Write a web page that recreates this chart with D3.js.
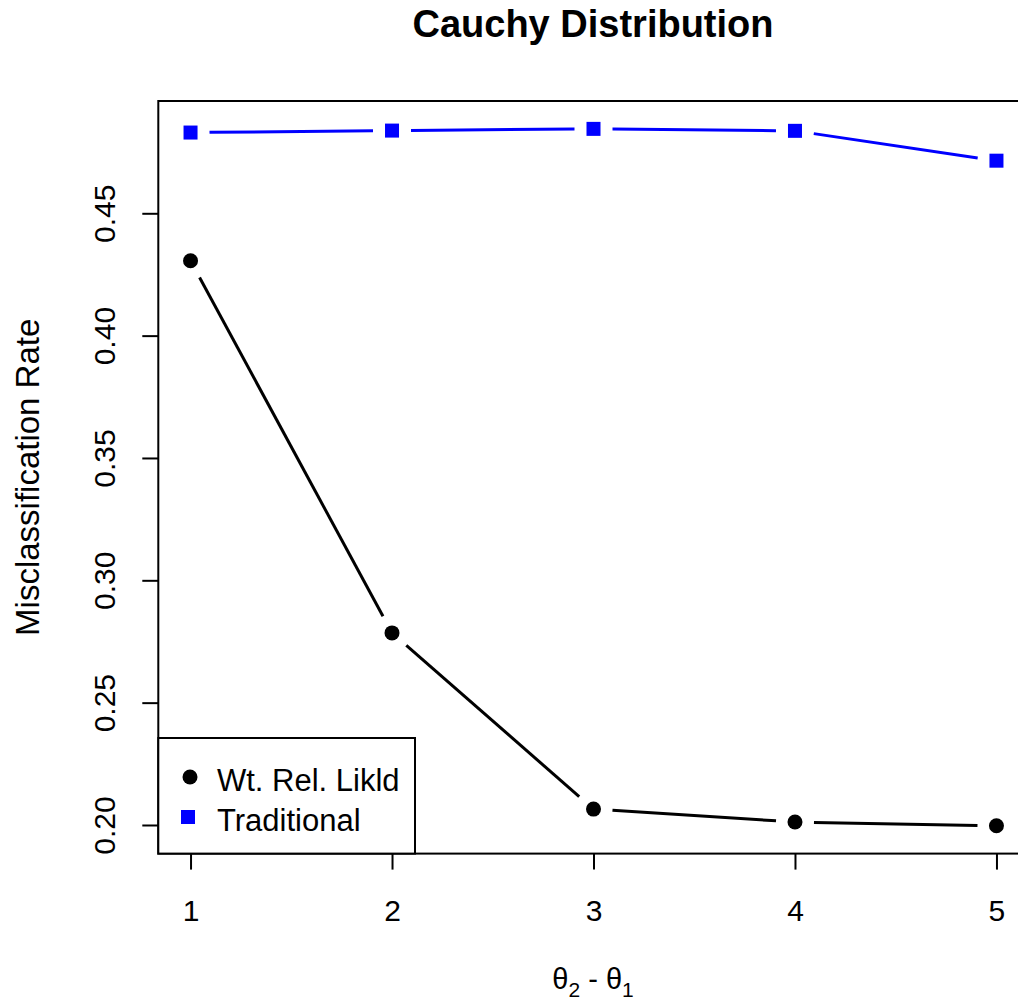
<!DOCTYPE html>
<html>
<head>
<meta charset="utf-8">
<script src="https://cdn.jsdelivr.net/npm/d3@7"></script>
<style>
  html, body { margin: 0; padding: 0; background: #fff; }
  svg { display: block; }
  text { font-family: "Liberation Sans", Arial, sans-serif; }
</style>
</head>
<body>
<div id="chart"></div>
<script>
const xValues = [1, 2, 3, 4, 5];
const wtRelLikld = [0.4306, 0.2785, 0.2065, 0.2012, 0.1997];
const traditional = [0.4830, 0.4838, 0.4845, 0.4837, 0.4715];
const yTicks = [0.20, 0.25, 0.30, 0.35, 0.40, 0.45];
const xTicks = [1, 2, 3, 4, 5];
const seriesNames = ["Wt. Rel. Likld", "Traditional"];
const seriesColors = ["#000000", "#0000ff"];
const chartTitle = "Cauchy Distribution";
const yLabel = "Misclassification Rate";

const W = 1018, H = 1005;
const plot = { left: 158.3, right: 1028.7, top: 101, bottom: 853.6 };

const svg = d3.select("#chart").append("svg").attr("width", W).attr("height", H);

// R-style 4% padding on the data range
const xPad = 0.04 * (d3.max(xValues) - d3.min(xValues));
const x = d3.scaleLinear()
  .domain([d3.min(xValues) - xPad, d3.max(xValues) + xPad])
  .range([plot.left, plot.right]);
const allY = wtRelLikld.concat(traditional);
const yMin = d3.min(allY), yMax = d3.max(allY);
const yPad = 0.04 * (yMax - yMin);
const y = d3.scaleLinear()
  .domain([yMin - yPad, yMax + yPad])
  .range([plot.bottom, plot.top]);

// Title
svg.append("text")
  .attr("x", 593)
  .attr("y", 37)
  .attr("text-anchor", "middle")
  .attr("font-weight", "bold")
  .attr("font-size", 38)
  .text(chartTitle);

// Axes
const xAxis = d3.axisBottom(x).tickValues(xTicks).tickSize(16).tickPadding(30)
  .tickFormat(d3.format("d"));
const gx = svg.append("g").attr("transform", `translate(0,${plot.bottom})`).call(xAxis);
gx.select(".domain").remove();
gx.selectAll("line").attr("stroke", "#000").attr("stroke-width", 2);
gx.selectAll("text").attr("font-size", 30).attr("fill", "#000")
  .attr("font-family", "'Liberation Sans', Arial, sans-serif");

const yAxis = d3.axisLeft(y).tickValues(yTicks).tickSize(16).tickFormat(d3.format(".2f"));
const gy = svg.append("g").attr("transform", `translate(${plot.left},0)`).call(yAxis);
gy.select(".domain").remove();
gy.selectAll("line").attr("stroke", "#000").attr("stroke-width", 2);
gy.selectAll(".tick text")
  .attr("font-size", 30).attr("fill", "#000")
  .attr("font-family", "'Liberation Sans', Arial, sans-serif")
  .attr("x", 0).attr("y", 0).attr("dy", null)
  .attr("text-anchor", "middle")
  .attr("transform", "translate(-43,0) rotate(-90)");

// Y label
svg.append("text")
  .attr("transform", `translate(39,${(plot.top + plot.bottom) / 2}) rotate(-90)`)
  .attr("text-anchor", "middle")
  .attr("font-size", 33)
  .text(yLabel);

// X label θ2 - θ1
const xl = svg.append("text")
  .attr("x", 593).attr("y", 989)
  .attr("text-anchor", "middle")
  .attr("font-size", 29);
xl.append("tspan").text("θ");
xl.append("tspan").attr("font-size", 21).attr("dy", 8).text("2");
xl.append("tspan").attr("dy", -8).text(" - θ");
xl.append("tspan").attr("font-size", 21).attr("dy", 8).text("1");

// Lines with gaps (type = "b")
const gap = 19;
function drawGapLine(vals, color) {
  const pts = xValues.map((v, i) => [x(v), y(vals[i])]);
  for (let i = 0; i < pts.length - 1; i++) {
    const [x0, y0] = pts[i], [x1, y1] = pts[i + 1];
    const dx = x1 - x0, dy = y1 - y0, len = Math.hypot(dx, dy);
    if (len <= 2 * gap) continue;
    const ux = dx / len, uy = dy / len;
    svg.append("line")
      .attr("x1", x0 + ux * gap).attr("y1", y0 + uy * gap)
      .attr("x2", x1 - ux * gap).attr("y2", y1 - uy * gap)
      .attr("stroke", color).attr("stroke-width", 3);
  }
}
drawGapLine(wtRelLikld, seriesColors[0]);
drawGapLine(traditional, seriesColors[1]);

svg.selectAll(".pt-circle").data(xValues).enter().append("circle")
  .attr("cx", d => x(d)).attr("cy", (d, i) => y(wtRelLikld[i]))
  .attr("r", 7.5).attr("fill", seriesColors[0]);
svg.selectAll(".pt-square").data(xValues).enter().append("rect")
  .attr("x", d => x(d) - 7).attr("y", (d, i) => y(traditional[i]) - 7)
  .attr("width", 14).attr("height", 14).attr("fill", seriesColors[1]);

// Plot box
svg.append("rect")
  .attr("x", plot.left).attr("y", plot.top)
  .attr("width", plot.right - plot.left).attr("height", plot.bottom - plot.top)
  .attr("fill", "none").attr("stroke", "#000").attr("stroke-width", 2);

// Legend
const lg = svg.append("g");
lg.append("rect")
  .attr("x", plot.left).attr("y", 738)
  .attr("width", 415 - plot.left).attr("height", plot.bottom - 738)
  .attr("fill", "#fff").attr("stroke", "#000").attr("stroke-width", 2);
lg.append("circle").attr("cx", 190).attr("cy", 777).attr("r", 7.5).attr("fill", seriesColors[0]);
lg.append("rect").attr("x", 181).attr("y", 810).attr("width", 14).attr("height", 14).attr("fill", seriesColors[1]);
seriesNames.forEach((n, i) => {
  lg.append("text").attr("x", 217).attr("y", 791 + i * 40)
    .attr("font-size", 31).text(n);
});
</script>
</body>
</html>
